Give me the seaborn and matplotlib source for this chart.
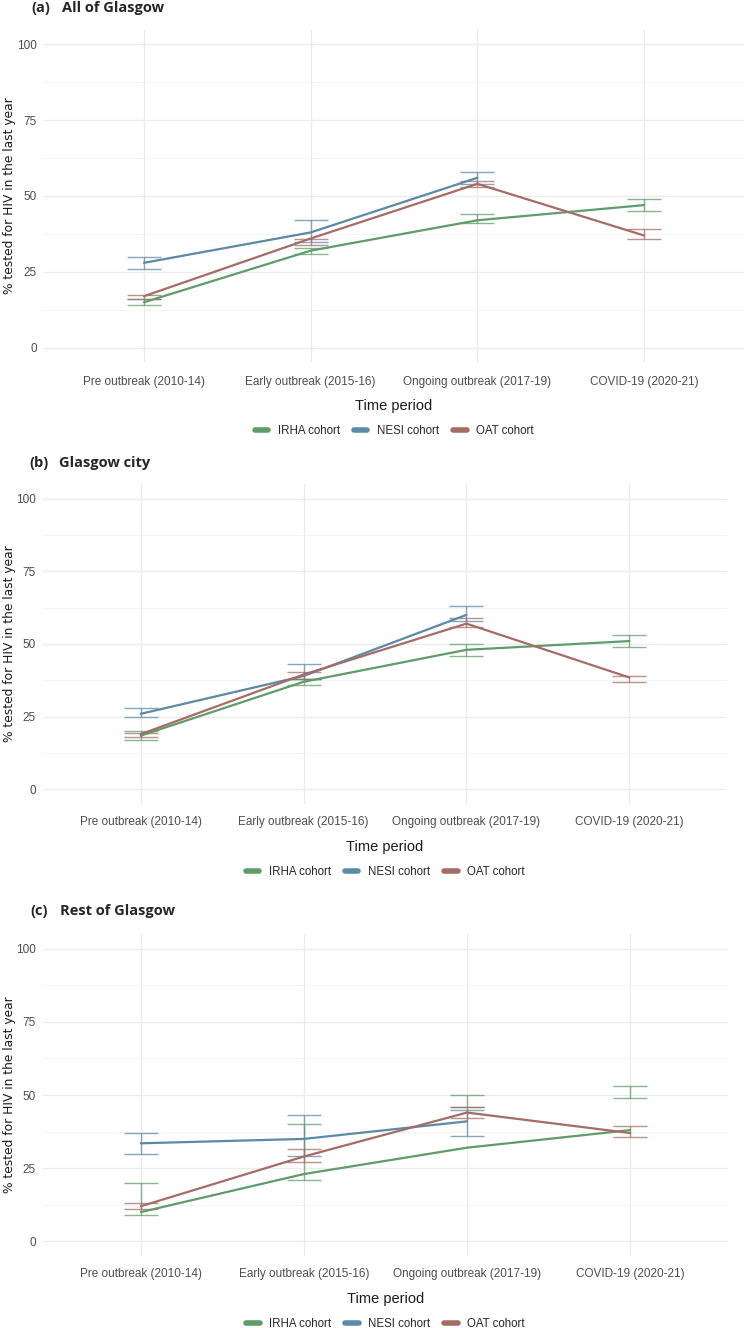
import numpy as np
import pandas as pd
import seaborn as sns
import matplotlib.pyplot as plt
from matplotlib.ticker import MultipleLocator

# categories
periods = ["Pre outbreak (2010-14)", "Early outbreak (2015-16)",
           "Ongoing outbreak (2017-19)", "COVID-19 (2020-21)"]
cohorts = ["IRHA cohort", "NESI cohort", "OAT cohort"]

# (a) All of Glasgow
a_irha = [15, 32, 42, 47]
a_irha_lo = [14, 31, 41, 45]
a_irha_hi = [16, 33, 44, 49]
a_nesi = [28, 38, 56, np.nan]
a_nesi_lo = [26, 35, 54, np.nan]
a_nesi_hi = [30, 42, 58, np.nan]
a_oat = [17, 36, 54, 37]
a_oat_lo = [16, 34, 53, 36]
a_oat_hi = [17.5, 36, 55, 39]

# (b) Glasgow city
b_irha = [18.5, 37, 48, 51]
b_irha_lo = [17, 36, 46, 49]
b_irha_hi = [20, 38, 50, 53]
b_nesi = [26, 39, 60, np.nan]
b_nesi_lo = [25, 38, 58, np.nan]
b_nesi_hi = [28, 43, 63, np.nan]
b_oat = [19, 39.5, 57, 38.5]
b_oat_lo = [18, 38, 56, 37]
b_oat_hi = [19.5, 40.3, 59, 39]

# (c) Rest of Glasgow
c_irha = [10, 23, 32, 38]
c_irha_lo = [9, 21, 46, 49]
c_irha_hi = [20, 40, 50, 53]
c_nesi = [33.5, 35, 41, np.nan]
c_nesi_lo = [30, 29, 36, np.nan]
c_nesi_hi = [37, 43, 45, np.nan]
c_oat = [12, 29, 44, 37]
c_oat_lo = [11, 27, 42, 35.5]
c_oat_hi = [13, 31.5, 46, 39.5]

palette = {"IRHA cohort": "#5e9c69", "NESI cohort": "#5b8aa6", "OAT cohort": "#a56c66"}


def make_df(vals, los, his):
    rows = []
    for cohort, v, lo, hi in zip(cohorts, vals, los, his):
        for p, y, l, h in zip(periods, v, lo, hi):
            if not np.isnan(y):
                rows.append({"period": p, "cohort": cohort, "value": y, "lo": l, "hi": h})
    return pd.DataFrame(rows)


panels = [
    ("(a)", "All of Glasgow",
     make_df([a_irha, a_nesi, a_oat], [a_irha_lo, a_nesi_lo, a_oat_lo], [a_irha_hi, a_nesi_hi, a_oat_hi]),
     [44, 29, 744, 363], 31, 62, 8),
    ("(b)", "Glasgow city",
     make_df([b_irha, b_nesi, b_oat], [b_irha_lo, b_nesi_lo, b_oat_lo], [b_irha_hi, b_nesi_hi, b_oat_hi]),
     [43, 484, 727, 804], 29, 59, 463),
    ("(c)", "Rest of Glasgow",
     make_df([c_irha, c_nesi, c_oat], [c_irha_lo, c_nesi_lo, c_oat_lo], [c_irha_hi, c_nesi_hi, c_oat_hi]),
     [43, 934, 728, 1256], 30, 60, 911),
]

sns.set_style("whitegrid")
plt.rcParams['font.family'] = ['Liberation Sans Narrow', 'Liberation Sans', 'DejaVu Sans']

W, H = 744, 1328
fig = plt.figure(figsize=(W / 100, H / 100), dpi=100)

for letter, name, df, box, lx, tx, ty in panels:
    l, t, r, b = box
    ax = fig.add_axes([l / W, 1 - b / H, (r - l) / W, (b - t) / H])

    sns.lineplot(data=df, x="period", y="value", hue="cohort", hue_order=cohorts,
                 palette=palette, sort=False, estimator=None, errorbar=None,
                 lw=1.6, ax=ax, zorder=3)
    # error bars
    for cohort in cohorts:
        sub = df[df["cohort"] == cohort]
        mid = (sub["lo"] + sub["hi"]) / 2
        ax.errorbar(sub["period"], mid, yerr=(sub["hi"] - sub["lo"]) / 2, fmt="none",
                    ecolor=palette[cohort], alpha=0.75, elinewidth=1.0, capsize=12,
                    capthick=1.0, zorder=2)

    ax.set_xlim(-0.6, 3.6)
    ax.set_ylim(-5, 105)
    ax.yaxis.set_major_locator(MultipleLocator(25))
    ax.yaxis.set_minor_locator(MultipleLocator(12.5))
    ax.grid(True, which="major", color="#ebebeb", lw=0.9)
    ax.grid(True, which="minor", axis="y", color="#f2f2f2", lw=0.6)
    ax.set_facecolor("white")
    for s in ax.spines.values():
        s.set_visible(False)
    ax.tick_params(axis="both", which="both", length=0)
    ax.tick_params(axis="x", pad=9, labelsize=8.5, labelcolor="#4d4d4d")
    ax.tick_params(axis="y", pad=5, labelsize=8.5, labelcolor="#4d4d4d")

    ax.set_xlabel("Time period", fontsize=10.5, color="#1a1a1a", labelpad=8)
    ax.set_ylabel("% tested for HIV in the last year", fontsize=8.8, color="#1a1a1a",
                  family=["DejaVu Sans"])
    ax.yaxis.set_label_coords(-(l - 16) / (r - l), 0.5)

    sns.move_legend(ax, "center", bbox_to_anchor=(0.5, -68 / (b - t)), ncol=3,
                    frameon=False, title=None, fontsize=8.3, handlelength=1.2,
                    columnspacing=1.2, handletextpad=0.8)
    for h in ax.get_legend().get_lines():
        h.set_linewidth(4)

    fig.text(lx / W, 1 - ty / H, letter, fontsize=10.5, fontweight="bold",
             family=["Open Sans"], va="center", ha="left")
    fig.text(tx / W, 1 - ty / H, name, fontsize=10.5, fontweight="bold",
             family=["Open Sans"], va="center", ha="left")

fig.savefig("out.png", dpi=100)
